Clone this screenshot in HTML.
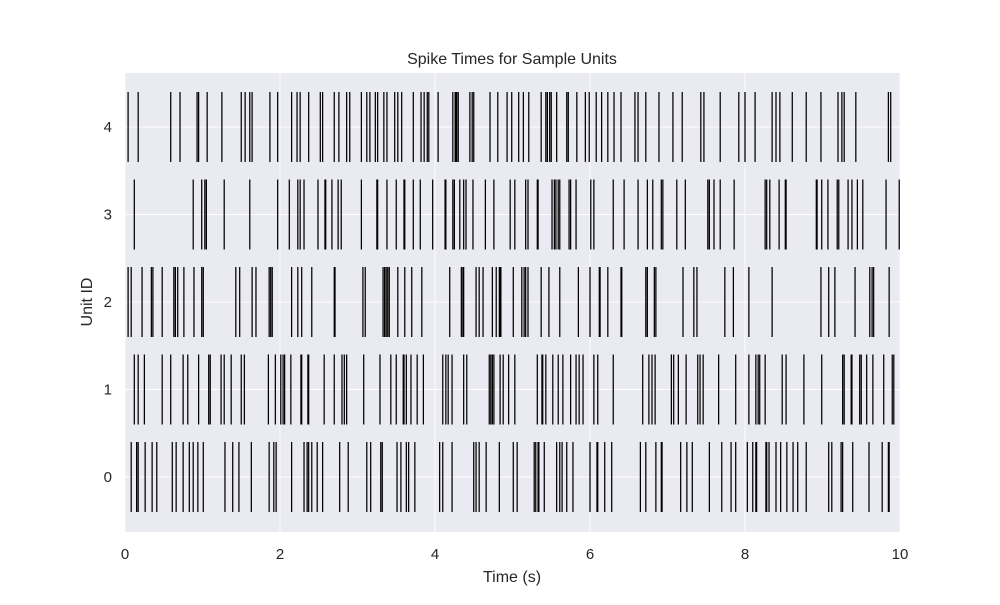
<!DOCTYPE html>
<html><head><meta charset="utf-8"><style>
body{margin:0;background:#fff;}
svg text{font-family:"Liberation Sans","DejaVu Sans",sans-serif;fill:#262626;}
</style></head><body>
<svg id="chart" width="1000" height="600" viewBox="0 0 1000 600" xmlns="http://www.w3.org/2000/svg">
<rect x="125" y="73" width="775" height="459" fill="#eaeaf2"/>
<g id="grid"></g><g id="marks"></g><g id="ticks"></g>
<text x="512" y="64" font-size="16" text-anchor="middle">Spike Times for Sample Units</text>
<text x="512" y="582" font-size="16" text-anchor="middle">Time (s)</text>
<text transform="translate(92,302) rotate(-90)" font-size="16" text-anchor="middle">Unit ID</text>
</svg>
<script>
const units=[0,1,2,3,4];
const xTicks=[0,2,4,6,8,10];
const spikes0=[0.08,0.15,0.17,0.26,0.35,0.41,0.61,0.66,0.75,0.83,0.88,0.94,1.01,1.29,1.39,1.47,1.63,1.86,1.92,1.95,2.15,2.31,2.35,2.37,2.41,2.48,2.55,2.77,2.88,3.12,3.17,3.30,3.32,3.51,3.56,3.63,3.66,3.74,4.06,4.10,4.22,4.50,4.53,4.57,4.66,4.83,5.01,5.06,5.28,5.30,5.33,5.34,5.41,5.57,5.61,5.64,5.70,5.78,6.00,6.09,6.10,6.19,6.28,6.65,6.72,6.85,6.92,6.93,7.17,7.25,7.32,7.54,7.70,7.82,7.88,8.03,8.10,8.14,8.15,8.27,8.28,8.31,8.40,8.46,8.54,8.62,8.68,8.79,9.08,9.12,9.24,9.26,9.39,9.60,9.77,9.85,9.86];
const spikes1=[0.12,0.17,0.25,0.48,0.59,0.75,0.81,0.95,1.08,1.10,1.24,1.28,1.37,1.50,1.54,1.85,1.94,2.01,2.04,2.06,2.14,2.27,2.28,2.36,2.37,2.57,2.70,2.80,2.83,2.86,3.08,3.29,3.43,3.50,3.59,3.60,3.63,3.69,3.77,3.85,4.10,4.14,4.17,4.22,4.37,4.41,4.70,4.72,4.74,4.76,4.84,4.88,4.95,5.03,5.32,5.38,5.39,5.43,5.52,5.59,5.65,5.75,5.82,5.86,5.91,6.05,6.10,6.30,6.68,6.76,6.80,6.84,7.05,7.08,7.14,7.24,7.39,7.42,7.46,7.66,7.88,8.05,8.14,8.17,8.19,8.26,8.48,8.53,8.76,8.99,9.26,9.28,9.37,9.38,9.48,9.50,9.57,9.65,9.79,9.90,9.92];
const spikes2=[0.04,0.08,0.22,0.34,0.36,0.48,0.63,0.65,0.68,0.76,0.89,0.99,1.01,1.43,1.48,1.64,1.69,1.86,1.88,1.90,2.15,2.23,2.28,2.41,2.70,2.71,3.07,3.10,3.33,3.35,3.37,3.39,3.41,3.52,3.61,3.70,3.83,4.19,4.34,4.36,4.37,4.53,4.57,4.62,4.74,4.79,4.83,4.84,4.85,5.01,5.12,5.15,5.17,5.20,5.37,5.47,5.61,5.85,6.00,6.12,6.13,6.23,6.40,6.41,6.72,6.74,6.83,6.85,7.20,7.34,7.38,7.74,7.85,8.05,8.35,8.98,9.08,9.16,9.42,9.61,9.64,9.66,9.86];
const spikes3=[0.12,0.88,0.99,1.03,1.05,1.28,1.61,1.97,2.12,2.23,2.26,2.31,2.49,2.58,2.59,2.67,2.75,2.79,3.05,3.25,3.26,3.38,3.50,3.60,3.61,3.72,3.81,3.97,4.13,4.14,4.23,4.25,4.32,4.37,4.40,4.49,4.65,4.76,4.97,5.03,5.17,5.20,5.32,5.33,5.51,5.54,5.56,5.59,5.61,5.73,5.75,5.82,6.01,6.05,6.30,6.44,6.62,6.74,6.81,6.92,6.94,7.12,7.23,7.52,7.54,7.60,7.68,7.86,8.26,8.28,8.32,8.44,8.52,8.53,8.92,8.93,8.99,9.07,9.19,9.21,9.33,9.38,9.45,9.52,9.82,9.99];
const spikes4=[0.04,0.17,0.59,0.71,0.93,0.95,1.06,1.25,1.50,1.55,1.61,1.64,1.87,1.97,2.15,2.22,2.26,2.37,2.52,2.55,2.70,2.76,2.86,2.90,3.05,3.12,3.16,3.23,3.26,3.34,3.38,3.48,3.52,3.57,3.72,3.82,3.86,3.90,3.92,4.04,4.23,4.26,4.27,4.28,4.30,4.45,4.48,4.50,4.71,4.81,4.93,4.99,5.08,5.14,5.21,5.37,5.43,5.45,5.48,5.50,5.57,5.70,5.72,5.83,5.94,5.99,6.08,6.15,6.23,6.31,6.40,6.58,6.62,6.72,6.89,7.07,7.19,7.43,7.47,7.68,7.92,8.00,8.13,8.35,8.40,8.45,8.61,8.79,8.98,9.20,9.25,9.28,9.43,9.85,9.88];
const allSpikes=[spikes0,spikes1,spikes2,spikes3,spikes4];

const NS='http://www.w3.org/2000/svg';
const X0=125,X1=900,Y0=73,Y1=532,xMin=0,xMax=10,yMin=-0.6286,yMax=4.6171;
const xs=v=>X0+(v-xMin)/(xMax-xMin)*(X1-X0);
const ys=v=>Y1-(v-yMin)/(yMax-yMin)*(Y1-Y0);
function mk(tag,attrs,parent){const e=document.createElementNS(NS,tag);for(const k in attrs)e.setAttribute(k,attrs[k]);parent.appendChild(e);return e;}
const grid=document.getElementById('grid'),marks=document.getElementById('marks'),ticks=document.getElementById('ticks');
xTicks.forEach(t=>{
  const l=mk('line',{x1:xs(t),x2:xs(t),y1:Y0,y2:Y1,stroke:'#fff','stroke-width':1},grid);
  
  
  const tx=mk('text',{x:xs(t),y:559,'font-size':15,'text-anchor':'middle'},ticks);
  tx.textContent=t;
  
  
});
units.forEach(u=>{
  const l=mk('line',{x1:X0,x2:X1,y1:ys(u),y2:ys(u),stroke:'#fff','stroke-width':1},grid);
  
  
  const tx=mk('text',{x:112,y:ys(u)+5,'font-size':15,'text-anchor':'end'},ticks);
  tx.textContent=u;
  
  
});
allSpikes.forEach((arr,u)=>{
  arr.forEach(t=>{
    const l=mk('line',{x1:xs(t),x2:xs(t),y1:ys(u+0.4),y2:ys(u-0.4),stroke:'#000','stroke-width':1.25},marks);
    
    
  });
});
</script>
</body></html>
